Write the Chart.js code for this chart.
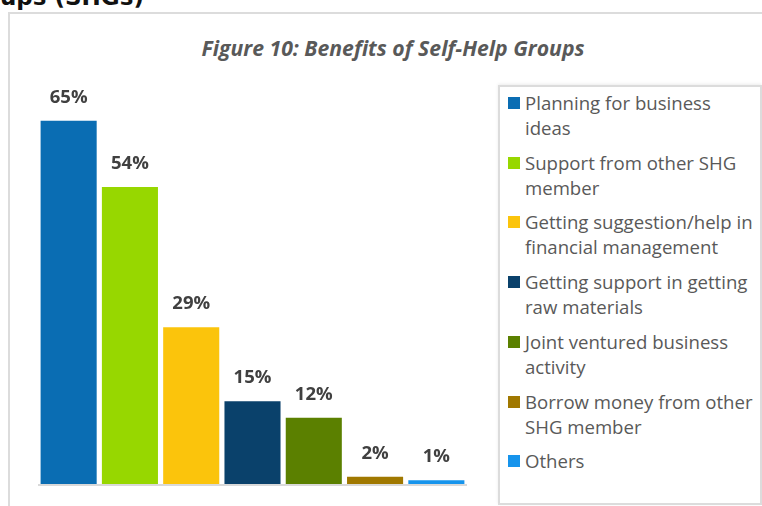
<!DOCTYPE html>
<html>
<head>
<meta charset="utf-8">
<script src="https://cdn.jsdelivr.net/npm/chart.js@4.4.1/dist/chart.umd.min.js"></script>
<style>
  html, body { margin: 0; padding: 0; background: #fff; }
  body { width: 762px; height: 506px; position: relative; overflow: hidden; font-family: "Open Sans", sans-serif; }
  #heading { position: absolute; left: 0; top: -14px; font: bold 23px "DejaVu Sans", sans-serif; color: #111; line-height: 23px; white-space: nowrap; }
  #frame { position: absolute; left: 8px; top: 12px; width: 800px; height: 600px; border: 2px solid #dcdcdc; box-sizing: border-box; }
  #title { position: absolute; left: 8px; width: 770px; top: 33px; text-align: center; font: italic bold 21.2px "Open Sans", sans-serif; color: #595959; white-space: nowrap; }
  #legend { position: absolute; left: 498px; top: 85px; width: 264px; height: 420px; border: 2px solid #dcdcdc; box-sizing: border-box; box-shadow: 0 -1px 3px rgba(0,0,0,0.08); padding: 0; }
  .item { position: absolute; left: 8px; font: 18.6px "Open Sans", sans-serif; color: #595959; line-height: 25px; }
  .sw { position: absolute; left: 0; top: 7px; width: 12px; height: 12px; }
  .txt { position: absolute; left: 17px; white-space: nowrap; top: 0; }
  canvas { position: absolute; left: 0; top: 0; }
</style>
</head>
<body>
<div id="heading">ups (SHGs)</div>
<div id="frame"></div>
<div id="title">Figure 10: Benefits of Self-Help Groups</div>
<div id="legend"></div>
<canvas id="c" width="762" height="506"></canvas>
<script>
const categories = [
  ["Planning for business", "ideas"],
  ["Support from other SHG", "member"],
  ["Getting suggestion/help in", "financial management"],
  ["Getting support in getting", "raw materials"],
  ["Joint ventured business", "activity"],
  ["Borrow money from other", "SHG member"],
  ["Others"]
];
// bar heights
const values = [65.8, 53.8, 28.4, 15.0, 12.0, 1.3, 0.7];
const valueLabels = ["65%", "54%", "29%", "15%", "12%", "2%", "1%"];
const colors = ["#0a6db3", "#97d700", "#fbc40c", "#0a416b", "#5b8000", "#a07800", "#1694ec"];

// HTML legend
const leg = document.getElementById('legend');
categories.forEach((lines, i) => {
  const it = document.createElement('div');
  it.className = 'item';
  it.style.top = (3 + i * 59.7) + 'px';
  const sw = document.createElement('div');
  sw.className = 'sw';
  sw.style.background = colors[i];
  const tx = document.createElement('div');
  tx.className = 'txt';
  tx.innerHTML = lines.join('<br>');
  it.appendChild(sw); it.appendChild(tx);
  leg.appendChild(it);
});

const labelPlugin = {
  id: 'valueLabels',
  afterDatasetsDraw(chart) {
    const ctx = chart.ctx;
    const meta = chart.getDatasetMeta(0);
    ctx.save();
    const a = chart.chartArea;
    ctx.strokeStyle = '#d9d9d9';
    ctx.lineWidth = 2;
    ctx.beginPath();
    ctx.moveTo(a.left, a.bottom + 1);
    ctx.lineTo(a.right, a.bottom + 1);
    ctx.stroke();
    ctx.fillStyle = '#404040';
    ctx.font = 'bold 18.5px "Open Sans", sans-serif';
    ctx.textAlign = 'center';
    ctx.textBaseline = 'middle';
    meta.data.forEach((bar, i) => {
      ctx.fillText(valueLabels[i], bar.x, bar.y - 23);
    });
    ctx.restore();
  }
};

new Chart(document.getElementById('c'), {
  type: 'bar',
  data: {
    labels: categories,
    datasets: [{
      data: values,
      backgroundColor: colors,
      borderWidth: 0,
      categoryPercentage: 0.915,
      barPercentage: 1.0
    }]
  },
  options: {
    responsive: false,
    animation: false,
    layout: { padding: { left: 38, right: 295, top: 97.6, bottom: 22 } },
    plugins: { legend: { display: false }, title: { display: false }, tooltip: { enabled: false } },
    scales: {
      x: { display: false },
      y: { display: false, min: 0, max: 70 }
    }
  },
  plugins: [labelPlugin]
});
</script>
</body>
</html>
